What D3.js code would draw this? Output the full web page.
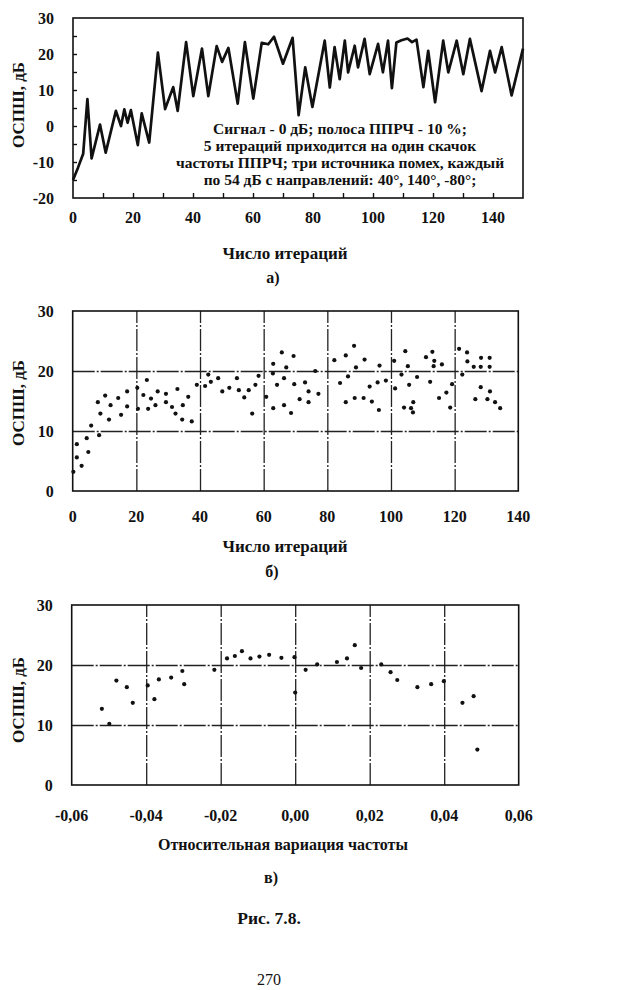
<!DOCTYPE html>
<html>
<head>
<meta charset="utf-8">
<script src="https://cdn.jsdelivr.net/npm/d3@7"></script>
<style>
  html, body { margin: 0; padding: 0; background: #fff; }
  svg { display: block; }
  text { font-family: "Liberation Serif", "Times New Roman", serif; fill: #111; }
</style>
</head>
<body>
<svg id="fig" width="640" height="990"></svg>
<script>
// --- panel а: ОСПШ vs iteration (vertices)
const iterA = [0, 1.7, 3.4, 4.8, 6.2, 9, 10.9, 14.3, 16, 17.1, 18.2, 19.3, 21.6, 22.9, 25.4,
  28.3, 30.7, 33.4, 34.9, 37.7, 40.1, 43, 45.1, 47.9, 49.7, 51.8, 54.9, 57.3, 60.1, 62.9,
  65.1, 67, 70, 73.2, 75.2, 77.4, 79.8, 83.9, 85.6, 87.2, 88.9, 90.6, 91.7, 93.9, 95,
  97.2, 98.9, 101.7, 103.3, 105, 106.3, 107.8, 109.5, 111.5, 113, 114.5, 116.8, 118.4,
  120.7, 123.4, 125.1, 127.9, 130.1, 132.3, 136.2, 139, 140.7, 142.9, 146.2, 150];
const osshA = [-15, -11.5, -7.7, 7.5, -9, 0.4, -7.4, 4.2, 0, 4.6, 0.9, 4.4, -5.3, 3.5, -4.6,
  20.4, 4.7, 10.8, 4.2, 23.3, 8.3, 21.5, 8.3, 22.2, 17.8, 21.7, 6.2, 23.3, 7.6, 23.1,
  22.7, 24.8, 17.3, 24.5, 3, 16.3, 5.3, 23.7, 10.7, 21.9, 13, 23.7, 14.9, 22.3, 16.3,
  24.2, 14.4, 22.8, 14.9, 23.7, 10.5, 23.2, 23.8, 24.3, 23.3, 24, 10.8, 20.9,
  6.6, 23.7, 14.9, 23.7, 14.4, 24.2, 9.7, 20.9, 14.9, 21.9, 8.5, 21.5];

// --- panel б: scatter vs iteration
const iterB = [0.2, 1.3, 1.3, 2.8, 4.4, 4.9, 5.8, 7.9, 8.3, 8.7, 10.2, 11.4, 11.9, 14.3, 15.2,
  17.1, 17.1, 20.3, 20.5, 22.2, 23.3, 23.7, 24.6, 26, 26.7, 29.3, 29.3, 31.2, 32.3, 32.9,
  34.4, 34.6, 36.3, 37.4, 39, 41.6, 42.6, 43.4, 45.7, 47, 49.2, 51.6, 52.2, 53.9, 55.3,
  56.4, 57.4, 58.4, 60.8, 62.9, 63, 63, 64.2, 65.7, 66.4, 66.4, 67.1, 68.6, 69.4, 69.6,
  71.3, 73, 74.1, 74.1, 76.2, 77.2, 82.2, 84, 85.8, 85.8, 86.5, 88.4, 88.6, 89,
  91.4, 91.7, 93.3, 94, 95.8, 96.2, 96.4, 98.4, 101, 101.3, 103.3, 104.1, 104.5, 105.3,
  105.7, 106.3, 106.9, 107, 108.2, 111, 112.3, 113, 113.6, 113.4, 115.1, 116, 117.4,
  118.6, 119.2, 121.4, 122.4, 123.9, 124, 126, 126.5, 128.2, 128.3, 128.2, 130.3, 131,
  131, 131.1, 132.7, 134.3];
const osshB = [3.2, 7.8, 5.6, 4.2, 8.8, 6.5, 10.9, 14.8, 9.3, 12.9, 15.9, 11.9, 14.3, 15.5, 12.7,
  14.1, 16.6, 17.2, 13.7, 16, 18.5, 13.7, 15.4, 14.3, 16.6, 16.2, 14.8, 14, 12.9, 17,
  11.9, 14.3, 15.7, 11.6, 17.7, 17.5, 19.4, 18.2, 18.8, 16.6, 17.2, 18.8, 16.8, 15.6, 16.8,
  12.9, 17.7, 19.2, 15.7, 19.6, 21.2, 13.8, 17.7, 23.1, 18.8, 14.3, 20.6, 13, 22.5, 17.8,
  15.3, 18.1, 16.6, 14.8, 20, 16.2, 21.8, 18, 22.6, 14.8, 19.1, 24.2, 15.5, 20.6,
  15.5, 21.9, 17.4, 14.9, 18.1, 13.5, 20.9, 18.4, 21.7, 17.1, 19.4, 13.9, 23.3, 20.8,
  17.7, 13.8, 13.1, 14.8, 19, 22.3, 18.2, 23.2, 21.7, 20.8, 15.5, 21.1, 16.4,
  13.9, 17.8, 23.7, 19.4, 23.1, 21.6, 20.7, 15.3, 17.3, 22.2, 20.7, 15.3, 22.2,
  20.7, 16.6, 14.8, 13.8];

// --- panel в: scatter vs relative frequency variation
const freqC = [-0.0519, -0.0499, -0.048, -0.0452, -0.0436, -0.0396, -0.0378, -0.0366, -0.0333,
  -0.0303, -0.0298, -0.0217, -0.0183, -0.0162, -0.0143, -0.012, -0.0096, -0.007, -0.0037,
  -0.0002, 0.0, 0.0028, 0.0059, 0.0112, 0.0139, 0.016, 0.0177, 0.0231, 0.0256, 0.0274,
  0.0328, 0.0365, 0.0399, 0.0449, 0.0479, 0.0489];
const osshC = [12.7, 10.2, 17.4, 16.3, 13.7, 16.6, 14.3, 17.6, 17.9,
  19, 16.8, 19.2, 21.1, 21.5, 22.3, 21.1, 21.4, 21.7, 21.2,
  21.3, 15.4, 19.2, 20.1, 20.5, 21.1, 23.3, 19.5, 20.1, 18.8, 17.5,
  16.3, 16.8, 17.3, 13.7, 14.8, 5.9];

const yTicksA = [-20, -10, 0, 10, 20, 30];
const xTicksA = [0, 20, 40, 60, 80, 100, 120, 140];
const yTicksBC = [0, 10, 20, 30];
const xTicksB = [0, 20, 40, 60, 80, 100, 120, 140];
const xTicksC = [-0.06, -0.04, -0.02, 0, 0.02, 0.04, 0.06];

const noteA = [
  "Сигнал - 0 дБ; полоса ППРЧ - 10 %;",
  "5 итераций приходится на один скачок",
  "частоты ППРЧ; три источника помех, каждый",
  "по 54 дБ с направлений: 40°, 140°, -80°;"
];

const svg = d3.select("#fig");
const FS = 16;
const hy = (d) => (d < 0 ? "-" : "") + Math.abs(d);
const comma = (d) => (d < 0 ? "-" : "") + Math.abs(d).toFixed(2).replace(".", ",");

function label(x, y, txt, opts = {}) {
  const t = svg.append("text")
    .attr("x", x).attr("y", y)
    .attr("text-anchor", opts.anchor || "middle")
    .attr("dominant-baseline", "central")
    .attr("font-size", opts.size || FS)
    .attr("font-weight", opts.weight || "bold")
    .text(txt);
  if (opts.rotate) t.attr("transform", `rotate(-90,${x},${y})`);
  return t;
}

function frame(x, y) {
  const [x0, x1] = x.range(), [y0, y1] = y.range();
  svg.append("rect")
    .attr("x", x0).attr("y", y1)
    .attr("width", x1 - x0).attr("height", y0 - y1)
    .attr("fill", "none").attr("stroke", "#111").attr("stroke-width", 1.6);
}

function tickLabels(x, y, xt, yt, xfmt, yfmt, xLabY) {
  xt.forEach((d) => label(x(d), xLabY, xfmt(d)));
  yt.forEach((d) => label(x.range()[0] - 19, y(d), yfmt(d), { anchor: "end" }));
}

// ---------------- panel а
{
  const x = d3.scaleLinear().domain([0, 150]).range([73, 523]);
  const y = d3.scaleLinear().domain([-20, 30]).range([198, 18]);
  const g = svg.append("g");
  // inner tick marks
  g.append("g").attr("transform", `translate(0,${y(-20)})`)
    .call(d3.axisBottom(x).tickValues(d3.range(10, 150, 10)).tickSize(-5).tickFormat(""))
    .call((s) => s.select(".domain").remove())
    .selectAll("line").attr("stroke", "#111").attr("stroke-width", 1.4);
  g.append("g").attr("transform", `translate(${x(0)},0)`)
    .call(d3.axisLeft(y).tickValues(d3.range(-15, 30, 5)).tickSize(-4).tickFormat(""))
    .call((s) => s.select(".domain").remove())
    .selectAll("line").attr("stroke", "#111").attr("stroke-width", 1.4);
  frame(x, y);
  const pts = iterA.map((d, i) => [d, osshA[i]]);
  g.append("path")
    .datum(pts)
    .attr("fill", "none").attr("stroke", "#111").attr("stroke-width", 2.7)
    .attr("stroke-linejoin", "round")
    .attr("d", d3.line().x((d) => x(d[0])).y((d) => y(d[1])));
  tickLabels(x, y, xTicksA, yTicksA, (d) => d, hy, 217);
  noteA.forEach((t, i) => label(340, 128 + i * 17, t, { size: 15.5 }));
  label(285, 253, "Число итераций", { size: 17 });
  label(273, 277, "а)");
  label(18, 105, "ОСПШ, дБ", { rotate: true, size: 17 });
}

function scatterPanel(xd, xr, yr, xs, ys, xt, xfmt, xLabY) {
  const x = d3.scaleLinear().domain(xd).range(xr);
  const y = d3.scaleLinear().domain([0, 30]).range(yr);
  const g = svg.append("g");
  // grid
  g.append("g").attr("transform", `translate(0,${yr[0]})`)
    .call(d3.axisBottom(x).tickValues(xt.slice(1, -1)).tickSize(yr[1] - yr[0]).tickFormat(""))
    .call((s) => s.select(".domain").remove())
    .selectAll("line").attr("stroke", "#222").attr("stroke-width", 1.3)
    .attr("stroke-dasharray", "22,2,2,2");
  g.append("g").attr("transform", `translate(${xr[0]},0)`)
    .call(d3.axisLeft(y).tickValues([10, 20]).tickSize(xr[0] - xr[1]).tickFormat(""))
    .call((s) => s.select(".domain").remove())
    .selectAll("line").attr("stroke", "#222").attr("stroke-width", 1.3)
    .attr("stroke-dasharray", "22,2,2,2");
  frame(x, y);
  g.append("g").selectAll("circle")
    .data(xs.map((d, i) => [d, ys[i]]))
    .join("circle")
    .attr("cx", (d) => x(d[0])).attr("cy", (d) => y(d[1]))
    .attr("r", 2.1).attr("fill", "#111");
  tickLabels(x, y, xt, yTicksBC, xfmt, hy, xLabY);
  return { x, y };
}

// ---------------- panel б
scatterPanel([0, 140], [72.7, 518.3], [491, 311], iterB, osshB, xTicksB, (d) => d, 516);
label(285, 546, "Число итераций", { size: 17 });
label(272, 571, "б)");
label(18, 403, "ОСПШ, дБ", { rotate: true, size: 17 });

// ---------------- panel в
scatterPanel([-0.06, 0.06], [71.7, 518.7], [785, 605], freqC, osshC, xTicksC, comma, 815);
label(283, 844, "Относительная вариация частоты");
label(271, 877, "в)");
label(18, 700, "ОСПШ, дБ", { rotate: true, size: 17 });

label(269, 918, "Рис. 7.8.", { size: 17.5 });
label(269, 979, "270", { weight: "normal", size: 16 });
</script>
</body>
</html>
